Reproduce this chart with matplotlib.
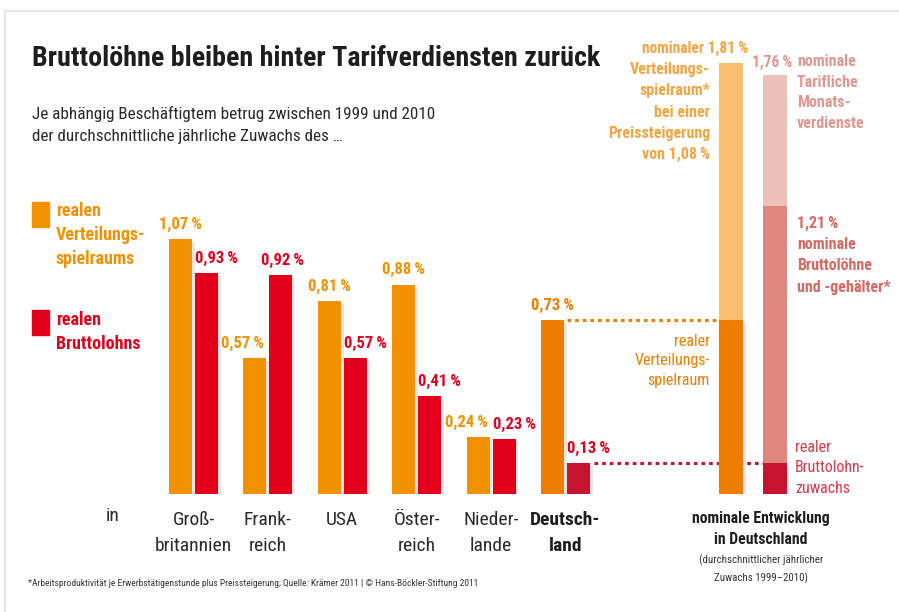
import matplotlib
matplotlib.use("Agg")
import matplotlib.pyplot as plt
import matplotlib.patheffects as pe
from matplotlib import font_manager as fm

# ── Data ───────────────────────────────────────────────────────
countries = ["Groß-\nbritannien", "Frank-\nreich", "USA", "Öster-\nreich",
             "Nieder-\nlande", "Deutsch-\nland"]
real_spielraum = [1.07, 0.57, 0.81, 0.88, 0.24, 0.73]   # realer Verteilungsspielraum
real_brutto    = [0.93, 0.92, 0.57, 0.41, 0.23, 0.13]   # realer Bruttolohn
nom_spielraum  = 1.81   # nominaler Verteilungsspielraum
preis          = 1.08   # Preissteigerung
nom_tarif      = 1.76   # nominale tarifliche Monatsverdienste
nom_brutto     = 1.21   # nominale Bruttolöhne und -gehälter

# ── Colours ────────────────────────────────────────────────────
ORANGE   = '#F39200'; RED     = '#E2001A'
D_ORANGE = '#EE7D00'; D_RED   = '#C8152F'
L_ORANGE = '#F9BD72'; L_PINK  = '#EDC1BB'; M_PINK = '#DE877F'
T_ORANGE = '#F5A441'; T_PINK  = '#E39690'; T_MPINK = '#D9685F'
DARK     = '#1E1E1E'
TS = '\u2009'   # thin space before %


def pct(v):
    return f"{v:.2f}".replace('.', ',') + TS + "%"


def pick_font(cands):
    names = {f.name for f in fm.fontManager.ttflist}
    for c in cands:
        if c in names:
            return c
    return 'DejaVu Sans'

NARROW = pick_font(['Roboto Condensed', 'Liberation Sans Narrow',
                    'Open Sans Condensed', 'Liberation Sans'])
plt.rcParams['font.family'] = [NARROW, 'DejaVu Sans']

fig = plt.figure(figsize=(8.99, 6.12), dpi=100)
fig.patch.set_facecolor('white')

# overlay in pixel coordinates for free text
ov = fig.add_axes([0, 0, 1, 1])
ov.set_xlim(0, 899); ov.set_ylim(612, 0); ov.axis('off')

# bar axes: baseline at y=494 px, 238 px per percent point
GAP = 74.4
x0 = 193.5
ax = fig.add_axes([0, 118/612, 1, 2.0*238/612])
ax.set_xlim(-x0/GAP, (899-x0)/GAP)
ax.set_ylim(0, 2.0)
ax.axis('off')

shadow = [pe.SimplePatchShadow(offset=(2, -2), shadow_rgbFace='#999999', alpha=0.25), pe.Normal()]

bw  = 23/GAP
off = 13/GAP
n = len(countries)
for i in range(n):
    so, sr = real_spielraum[i], real_brutto[i]
    co = D_ORANGE if i == n-1 else ORANGE
    cr = D_RED if i == n-1 else RED
    b1 = ax.bar(i-off, so, bw, color=co, zorder=3)
    b2 = ax.bar(i+off, sr, bw, color=cr, zorder=3)
    for b in (b1, b2):
        b[0].set_path_effects(shadow)
    # label placement: keep the two labels apart when the bars are close
    crowded = sr >= so - 0.05
    if crowded:
        ax.text(i-off+bw/2-2/GAP, so+0.03, pct(so), ha='right', va='bottom',
                color=co, fontsize=12, fontweight='bold')
    else:
        ax.text(i-off, so+0.03, pct(so), ha='center', va='bottom',
                color=co, fontsize=12, fontweight='bold')
    if sr > so:
        ax.text(i+off+2/GAP, sr+0.03, pct(sr), ha='center', va='bottom',
                color=RED, fontsize=12, fontweight='bold')
    else:
        ax.text(i+off-bw/2, sr+0.03, pct(sr), ha='left', va='bottom',
                color=RED, fontsize=12, fontweight='bold')

# nominal development bars
xc = 7.52
nw = 24/GAP
xo, xp = xc-0.29, xc+0.29
r = ax.bar(xo, real_spielraum[-1], nw, color=D_ORANGE, zorder=3)
r[0].set_path_effects(shadow)
ax.bar(xo, nom_spielraum-real_spielraum[-1], nw, bottom=real_spielraum[-1], color=L_ORANGE, zorder=3)
r = ax.bar(xp, real_brutto[-1], nw, color=D_RED, zorder=3)
r[0].set_path_effects(shadow)
ax.bar(xp, nom_brutto-real_brutto[-1], nw, bottom=real_brutto[-1], color=M_PINK, zorder=3)
ax.bar(xp, nom_tarif-nom_brutto, nw, bottom=nom_brutto, color=L_PINK, zorder=3)

# dotted connectors
ax.hlines(real_spielraum[-1], n-1-off+bw/2+3/GAP, xo-nw/2, colors=D_ORANGE,
          linestyles=(0, (1.2, 1.3)), lw=2.2, zorder=2)
ax.hlines(real_brutto[-1], n-1+off+bw/2+4/GAP, xp-nw/2, colors=D_RED,
          linestyles=(0, (1.2, 1.3)), lw=2.2, zorder=2)

# ── Texts ──────────────────────────────────────────────────────
ov.plot([5, 899], [11, 11], color='#E6E6E6', lw=1.6)
ov.plot([5, 5], [11, 612], color='#E6E6E6', lw=1.6)

ov.text(32, 58, "Bruttolöhne bleiben hinter Tarifverdiensten zurück",
        fontsize=20.2, fontweight='bold', color=DARK, va='center', ha='left')
ov.text(32, 125, "Je abhängig Beschäftigtem betrug zwischen 1999 und 2010\n"
                 "der durchschnittliche jährliche Zuwachs des …",
        fontsize=12.3, color='#2A2A2A', va='center', ha='left', linespacing=1.6)

# legend
ov.add_patch(plt.Rectangle((32, 202), 17, 25, color=ORANGE))
ov.add_patch(plt.Rectangle((32, 310), 17, 25, color=RED))
ov.text(56, 235, "realen\nVerteilungs-\nspielraums", color=ORANGE, fontsize=13,
        fontweight='bold', va='center', ha='left', linespacing=1.4)
ov.text(56, 332, "realen\nBruttolohns", color=RED, fontsize=13,
        fontweight='bold', va='center', ha='left', linespacing=1.4)

# country labels
ov.text(113, 516, "in", fontsize=14, color='#2A2A2A', ha='center', va='center')
for i, c in enumerate(countries):
    ax.text(i, -0.07, c, ha='center', va='top', fontsize=14,
            color=DARK if i == n-1 else '#2A2A2A',
            fontweight='bold' if i == n-1 else 'normal', linespacing=1.6)

# right-hand annotations
ov.text(748, 48, "nominaler 1,81" + TS + "%", color=T_ORANGE, fontsize=11.2,
        fontweight='bold', ha='right', va='center')
ov.text(710, 62, "Verteilungs-\nspielraum*\nbei einer\nPreissteigerung\nvon 1,08" + TS + "%",
        color=T_ORANGE, fontsize=11.5, fontweight='bold', ha='right', va='top',
        linespacing=1.53)
ov.text(792, 62, "1,76" + TS + "%", color=T_PINK, fontsize=11.2, fontweight='bold',
        ha='right', va='center')
ov.text(797, 62, "nominale", color=T_PINK, fontsize=11.5, fontweight='bold',
        ha='left', va='center')
ov.text(797, 75, "Tarifliche\nMonats-\nverdienste", color=T_PINK, fontsize=11.5,
        fontweight='bold', ha='left', va='top', linespacing=1.45)
ov.text(797, 216, "1,21" + TS + "%\nnominale\nBruttolöhne\nund -gehälter*", color=T_MPINK,
        fontsize=11.5, fontweight='bold', ha='left', va='top', linespacing=1.52)
ov.text(710, 361, "realer\nVerteilungs-\nspielraum", color=D_ORANGE, fontsize=11.5,
        ha='right', va='center', linespacing=1.4)
ov.text(795, 468, "realer\nBruttolohn-\nzuwachs", color='#D93A48', fontsize=11.5,
        ha='left', va='center', linespacing=1.45)
ov.text(761, 529, "nominale Entwicklung\nin Deutschland", color=DARK, fontsize=11.3,
        fontweight='bold', ha='center', va='center', linespacing=1.55)
ov.text(761, 569, "(durchschnittlicher jährlicher\nZuwachs 1999–2010)", color='#333333',
        fontsize=7.8, ha='center', va='center', linespacing=1.75)

ov.text(28, 584, "*Arbeitsproduktivität je Erwerbstätigenstunde plus Preissteigerung; "
                 "Quelle: Krämer 2011 | © Hans-Böckler-Stiftung 2011",
        fontsize=6.8, color='#333333', ha='left', va='center')

fig.savefig('out.png', dpi=100, facecolor='white')
